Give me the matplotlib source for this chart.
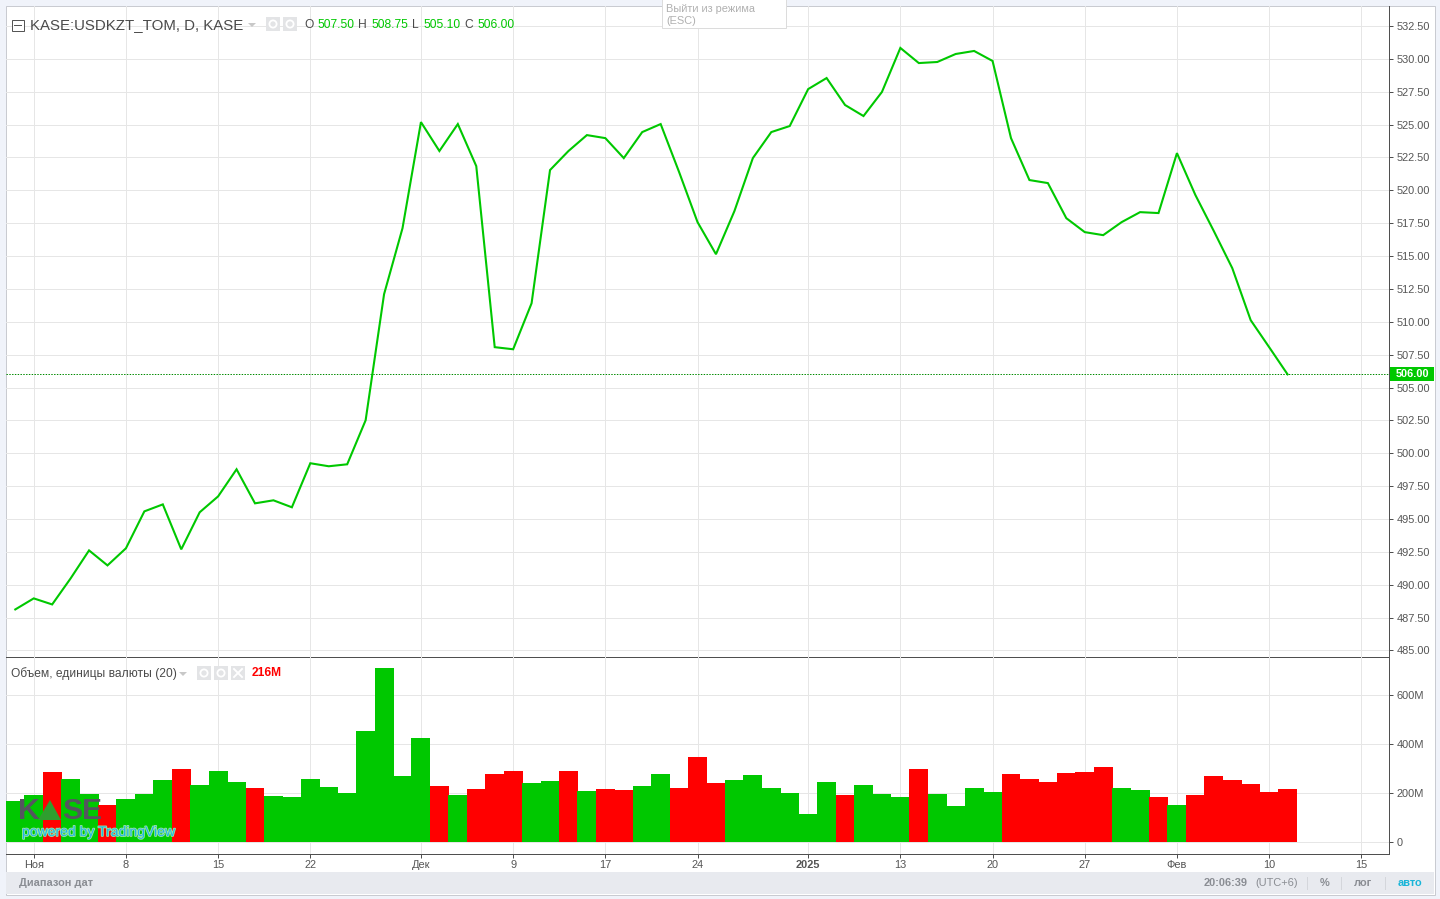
import numpy as np
import matplotlib
matplotlib.use("Agg")
import matplotlib.pyplot as plt
import matplotlib.patheffects as pe
from matplotlib.patches import Rectangle, Polygon, Circle

plt.rcParams['font.family'] = ['Liberation Sans', 'DejaVu Sans']

W, H = 1440, 899

# daily close
close = [488.12, 488.96, 488.50, 490.48, 492.61, 491.47, 492.77, 495.58, 496.11, 492.69,
         495.51, 496.72, 498.78, 496.19, 496.42, 495.89, 499.24, 499.01, 499.16, 502.51,
         512.10, 517.12, 525.19, 522.99, 525.04, 521.84, 508.07, 507.91, 511.41, 521.54,
         522.99, 524.20, 523.97, 522.45, 524.43, 525.04, 521.39, 517.58, 515.14, 518.42,
         522.45, 524.43, 524.89, 527.70, 528.54, 526.49, 525.65, 527.48, 530.83, 529.68,
         529.76, 530.37, 530.60, 529.84, 523.97, 520.78, 520.55, 517.88, 516.82, 516.59,
         517.58, 518.34, 518.27, 522.83, 519.64, 516.90, 514.08, 510.12, 508.07, 506.00]

# volume in millions
volume = [165, 192, 285, 255, 195, 150, 175, 195, 252, 297,
          230, 287, 243, 218, 187, 182, 255, 222, 198, 450,
          710, 270, 422, 228, 190, 215, 275, 290, 240, 248,
          290, 207, 215, 210, 228, 275, 220, 345, 240, 252,
          272, 218, 198, 115, 243, 190, 230, 195, 182, 297,
          195, 145, 218, 205, 277, 255, 245, 280, 285, 305,
          220, 210, 183, 150, 190, 268, 252, 235, 202, 216]

# 1 = green bar, 0 = red bar
vol_up = [1, 1, 0, 1, 1, 0, 1, 1, 1, 0,
          1, 1, 1, 0, 1, 1, 1, 1, 1, 1,
          1, 1, 1, 0, 1, 0, 0, 0, 1, 1,
          0, 1, 0, 0, 1, 1, 0, 0, 0, 1,
          1, 1, 1, 1, 1, 0, 1, 1, 1, 0,
          1, 1, 1, 1, 0, 0, 0, 0, 0, 0,
          1, 1, 0, 1, 0, 0, 0, 0, 0, 0]

date_ticks = [1, 6, 11, 16, 22, 27, 32, 37, 43, 48, 53, 58, 63, 68, 73]
date_labels = ['Ноя', '8', '15', '22', 'Дек', '9', '17', '24', '2025', '13', '20', '27', 'Фев', '10', '15']
price_ticks = [485 + 2.5 * i for i in range(20)]
vol_ticks = [0, 200, 400, 600]
vol_tick_labels = ['0', '200M', '400M', '600M']

GREEN = '#00c800'
RED = '#ff0000'
GRID = '#e6e6e6'
AXIS = '#4f4f4f'
TXT = '#555555'
PX = 0.72  # font px -> pt at dpi 100


def pane(x0, y0, x1, y1):
    return fig.add_axes([x0 / W, 1 - y1 / H, (x1 - x0) / W, (y1 - y0) / H])


fig = plt.figure(figsize=(W / 100, H / 100), dpi=100, facecolor='#f0f3fa')

# white chart card
bg = fig.add_axes([0, 0, 1, 1], zorder=0)
bg.set_xlim(0, W)
bg.set_ylim(H, 0)
bg.axis('off')
bg.add_patch(Rectangle((5.5, 5.5), 1429, 889, fc='white', ec='#c9cbd1', lw=0.72))

xlim = (-0.504, 74.50)
xs = np.arange(len(close))

# price pane
ax = pane(6, 6, 1389, 656.5)
ax.set_zorder(1)
ax.patch.set_alpha(0)
ax.plot(xs, close, color=GREEN, lw=1.5, solid_joinstyle='miter', zorder=3)
ax.axhline(close[-1], color='#008a00', lw=0.72, ls=(0, (1.4, 1.4)), zorder=2)
ax.set_xlim(*xlim)
ax.set_ylim(484.54, 534.02)
ax.set_xticks(date_ticks)
ax.set_yticks(price_ticks)
ax.set_yticklabels(['%.2f' % p for p in price_ticks])
ax.grid(True, color=GRID, lw=0.72)
ax.set_axisbelow(True)
ax.yaxis.tick_right()
ax.tick_params(axis='x', length=0, labelbottom=False)
ax.tick_params(axis='y', length=3, width=0.72, color=AXIS, labelcolor=TXT, labelsize=11 * PX, pad=2.5)
for s in ['top', 'left']:
    ax.spines[s].set_visible(False)
for s in ['right', 'bottom']:
    ax.spines[s].set_color(AXIS)
    ax.spines[s].set_linewidth(0.72)

# volume pane
ax2 = pane(6, 656.5, 1389, 854)
ax2.set_zorder(1)
ax2.patch.set_alpha(0)
bar_colors = [GREEN if u else RED for u in vol_up]
ax2.bar(xs, volume, width=1.03, color=bar_colors, lw=0, zorder=3)
ax2.set_xlim(*xlim)
ax2.set_ylim(-49, 755)
ax2.set_xticks(date_ticks)
ax2.set_xticklabels(date_labels)
ax2.set_yticks(vol_ticks)
ax2.set_yticklabels(vol_tick_labels)
ax2.grid(True, color=GRID, lw=0.72)
ax2.set_axisbelow(True)
ax2.yaxis.tick_right()
ax2.tick_params(axis='x', length=3, width=0.72, color=AXIS, labelcolor=TXT, labelsize=11 * PX, pad=1)
ax2.tick_params(axis='y', length=3, width=0.72, color=AXIS, labelcolor=TXT, labelsize=11 * PX, pad=2.5)
ax2.get_xticklabels()[date_labels.index('2025')].set_fontweight('bold')
for s in ['top', 'left']:
    ax2.spines[s].set_visible(False)
for s in ['right', 'bottom']:
    ax2.spines[s].set_color(AXIS)
    ax2.spines[s].set_linewidth(0.72)

# everything else is screen chrome, drawn in pixel coordinates
ov = fig.add_axes([0, 0, 1, 1], zorder=5)
ov.set_xlim(0, W)
ov.set_ylim(H, 0)
ov.axis('off')
ov.patch.set_alpha(0)


def label(x, y, s, size=11, color=TXT, **kw):
    kw.setdefault('va', 'center')
    return ov.text(x, y, s, fontsize=size * PX, color=color, **kw)


def icon(x, y, glyph=None):
    ov.add_patch(Rectangle((x, y), 14, 14, fc='#e3e4e6', ec='none'))
    cx, cy = x + 7, y + 7
    if glyph == 'x':
        ov.plot([cx - 4, cx + 4], [cy - 4, cy + 4], color='white', lw=1.4)
        ov.plot([cx - 4, cx + 4], [cy + 4, cy - 4], color='white', lw=1.4)
    else:
        ov.add_patch(Circle((cx, cy), 3.6, fc='none', ec='white', lw=1.3))


# last price tag
ov.add_patch(Rectangle((1390, 366.5), 44, 14, fc=GREEN, ec='none'))
label(1396, 374, '506.00', color='white', fontweight='bold')

# header
ov.add_patch(Rectangle((11.5, 19.5), 12, 11, fc='white', ec='#555555', lw=0.72))
ov.plot([14, 21], [25, 25], color='#555555', lw=0.72)
label(30, 25.5, 'KASE:USDKZT_TOM, D, KASE', size=15, color='#4a4a4a')
ov.add_patch(Polygon([(248, 23), (256, 23), (252, 27)], fc='#c8c8c8', ec='none'))
icon(266, 17)
icon(283, 17)
for x, s, val, vx in [(304, 'O', '507.50', 318), (358, 'H', '508.75', 371),
                      (412, 'L', '505.10', 423), (464, 'C', '506.00', 477)]:
    label(x, 24.5, s, size=12, color='#4a4a4a')
    label(vx, 24.5, val, size=12, color=GREEN)

# fullscreen exit hint
ov.add_patch(Rectangle((662, -2), 124, 30, fc='white', ec='#dcdcdc', lw=0.72))
label(666, 8.5, 'Выйти из режима', color='#b0b0b0')
label(666, 20.5, '(ESC)', color='#b0b0b0')

# volume legend
label(11, 673.5, 'Объем, единицы валюты (20)', size=12, color='#4a4a4a')
ov.add_patch(Polygon([(179, 672), (187, 672), (183, 676)], fc='#c8c8c8', ec='none'))
icon(197, 666)
icon(214, 666)
icon(231, 666, 'x')
label(252, 673.5, '216M', size=12, color=RED, fontweight='bold')

# logo
label(18, 811, 'K', size=30, color='#55555f', fontweight='bold')
label(62, 811, 'SE', size=30, color='#55555f', fontweight='bold')
ov.add_patch(Polygon([(38, 820), (50, 800), (61, 820)], fc='#2f9e2f', ec='none'))
label(22, 832, 'powered by TradingView', size=14, color='#1db4e8',
      path_effects=[pe.withStroke(linewidth=1.2, foreground='#9be6a0')])

# footer
ov.add_patch(Rectangle((6, 872), 1428, 22, fc='#e8eaef', ec='none'))
label(19, 883.5, 'Диапазон дат', color='#8a8d93', fontweight='bold')
label(1204, 883.5, '20:06:39', color='#8a8d93', fontweight='bold')
label(1255, 883.5, '(UTC+6)', color='#8a8d93')
label(1320, 883.5, '%', color='#8a8d93', fontweight='bold')
label(1354, 883.5, 'лог', color='#8a8d93', fontweight='bold')
label(1398, 883.5, 'авто', color='#19b5d8', fontweight='bold')
for x in [1306.5, 1340.5, 1384.5]:
    ov.plot([x, x], [877, 889], color='#d4d6db', lw=0.72)

fig.savefig('out.png', dpi=100, facecolor=fig.get_facecolor())
